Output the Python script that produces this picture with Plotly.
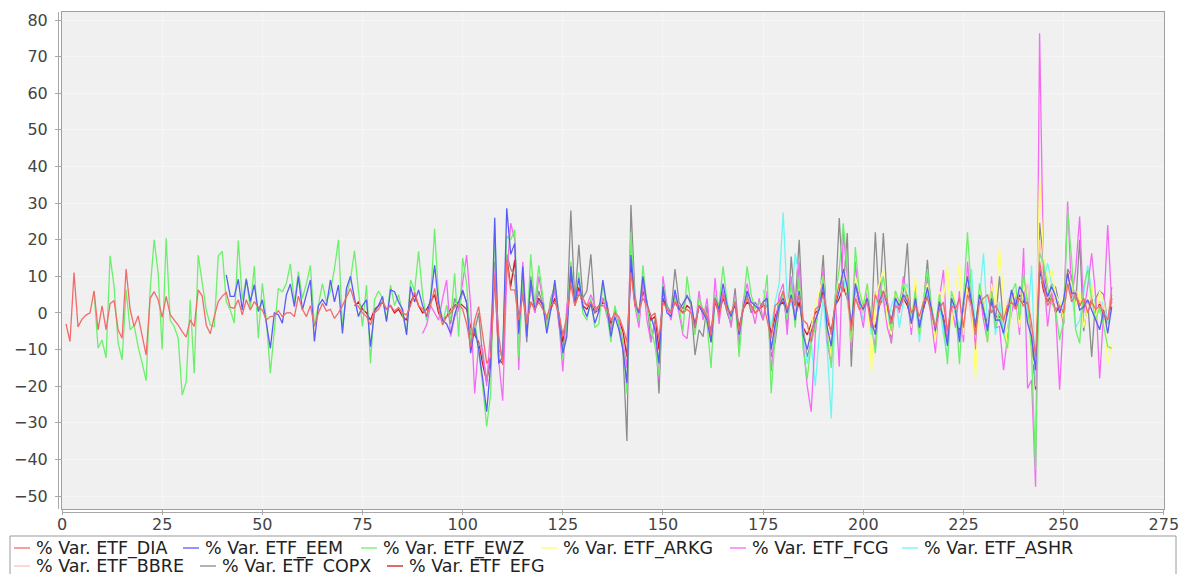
import plotly.graph_objects as go

# ---- data (x = day index, each series starts at its own x) ----
dia_start = 1
dia = [-3, -7.8, 11, -3.8, -1.7, -0.6, 0, 6, -4.6, 1.9, -4.6, 2.5, 3.4, -4.6, -6.9, 12, 1, -3.7, -0.8, -6.5, -11.5, 4, 5.8, 3.6, -1.2, 4.5, -0.5,
       -1.9, -3.3, -5.1, -6.6, -1.9, -3.7, 6.3, 4.6, -3.3, -5.7, -1, 3.1, 4.6, 5.6, 1.5, 1.3, 3.6, -0.5, 3.6, 0.8, 3.1, 1.5, 0.8, -1.9, -1, -0.8, 0.6, -1, 0, 0.1, -1, 4.6,
       1, -1, 2, -3.7, 0, 2.6, 0.5, 1, -1.5, 0, 2, 4.5, 6.7, 3, 1.7, 0, -1, -3.3, 0, 1, 3.1, 1, 2, 0.5, 1.5, 0, -0.5, 2, 5.8, 2, 1, -0.5, 2, 6.7, 1, -3.3, -1, 0, 1.5, 2.6, 1,
       -3, -9.2, -2, 1.7, -6, -13.8, -12, 10.4, -6, -14.2, 14.5, 6.3, 6.3, -2,
       5, -3, 3, 1, 3, 1, -1, 2, 3, 0, -6, -1, 8, 2, 5, 4, 2, 3, 1, 2, 2, 1, -2, 0, -1, -4, -8, 11, 2, 1, 4, 2, -1, 0, -7, 3, 1, 0, 3, 2, 0, 1,
       0, -4, 2, 1, -1, -6, 4, -1, 5, 1, 0, 3, -5, 1, 4, 2, 0, 1, 3, -2, -7, 2, 3, 6, 1, 4, 2, 5, -2, -3,
       -8, 1, 2, 5, 0, -6, 3, 8, 6, 5, -5, 4, 1, 2, 3, -4, 5, 2, 6, 3, -3, 2, 1, 4, 5, 0, 2, -1, 3, 4,
       0, -4, 1, 3, -5, 2, 1, 4, -4, 5, 2, -6, 3, 4, 5, 0, 2,
       0, -2, 2, 3, 1, 4, 2, 3, -3, -12, 14, 7, 2, 4, 1, 2, 0, 8, 3, 5, 2, 4, 0, 3, 1, 2, 0, -2, 5]

eem_start = 41
eem = [10.4, 4.5, 4.5, 9.2, 0.8, 9.2, 3.1, 7.7, 0.4, 3.6, -2.8, -9.7, 0, -0.5, -2.8, 4.9, 7.9, 1.7, 9.9,
       0.8, 5, 9, -7.8, 2, 3.6, 2, 9, 3, 7.6, -5.6, 6.7, 10, 4, -1, 2, 3.6, -9.2, 0.4, 2, 4.5, -2.4, 6.3, 5.8, 3, 1, -6, 7.2, 3, 6.3, 2, -1, 4, 13, 2.6, -2, -3, -5.6, -0.5, 3, 6.3,
       2.6, -11, -4, -10, -18, -27, -14, 26, -13.8, -12, 28.6, 16, 19, -5.6,
       12.7, -6.5, 9, 0.8, 3.6, 2.6, -5.6, 0.8, 9, -1, -11, -6.5, 12.7, 2.6, 9.5, 1.7, -1, 2.6, -2.8, 0.4, 9, 1.7, -6.5, -1, -4.6, -10, -19.2, 15.8, 2.6, 0, 10, 2.6, -1, -4.6, -13.8, 7.2, 0, -1, 6.3, 0.8, 2.6, 4.5,
       3, -4, 2, 0, -2, -8, 4, 1, 8, 2, -1, 3, -6, 1, 6, 3, 2, 1, 3, 4, -10, -3, 2, 4, 0, 5, -2, 6, -6, -10,
       -5, -2, 1, 8, -4, -9, 2, 6, 12, 7, -4, 8, 3, 1, 4, -2, -6, 3, 6, 2, -3, 4, 2, 5, 3, -3, 4, -4, 2, 7,
       1, -5, 3, -2, -9, 4, 1, -8, 3, 10, 3, -4, 5, 1, -5, 4, -2,
       -1.9, -5.6, 0.8, 6.3, 1.7, 7.2, 5.4, -2.8, -6.5, -15.6, 11.7, 8.1, 4.5, 7.2, 4.5, 0, 3.6, 10.8, 5.4, 5.4, 0.8, 1.7, 3.6, 0.8, -1.9, -4.6, 0.8, -5.6, 1.7]

ewz_start = 8
ewz = [6, -9.6, -7.4, -12.3, 15.6, 7.2, -8.2, -12.8, 6.3, -4.6, -3.4, -9.2, -13.7, -18.5, 6.3, 20, 10.8, -10, 20.4, -2,
       -3.7, -6.9, -22.4, -18.8, 3.6, -16.5, 15.8, 8.1, 0.8, -3.3, -3.7, 15.6, 16.8, 3.1, 0.8, -2.8, 19.8, 3.6, 9.5, 1.3, 12.8, -6.9, 8.1, -1.9, -16.5, -4.6, 6.7, 5.8, 8.1, 13.4, 2.6, 11.3,
       4, 8, 13, -3.7, 2, 8, 3, 6, 12, 20, -4, 5, 9, 17, 6, -3.7, 7.6, -13.8, 3.6, 6, 4, -2, 7.6, 2, 5, 0, -5.6, 9, 6, 16.8, 5, -2, 4, 23, 3.6, -3, 2, -2, 10.8, -6.5, 15,
       8, -9, -2, -10, -20, -31, -22, 24, -12, -10, 21, 20, 22.7, -12,
       10, -6, 16, 2, 13, 4, -4, 3, 8, 0, -12.5, -4, 14, 2, 11, 0, -2, 4, -4, -3, 8, 0, -8, 2, -3, -8, -22, 22, 3, -2, 13, 2, -4, -9, -17, 8, 1, 0, 4, 2, -5, 10,
       2, -6, 4, 1, -3, -15, 5, 2, 12.7, 3, -2, 4, -12, 2, 12.7, 5, 1, 3, 2, 10.4, -22, -6, 3, 5, -2, 8, -4, 10, -10, -18,
       -8, -4, 2, 10, -6, -15, 5, 12, 24.5, 12, -8, 18, 6, 2, 8, -3, -11, 4, 10, 2, -5, 6, 3, 8, 4, -2, 6, -6, 3, 12,
       2, -4, 5, -3, -14, 6, 2, -14, 4, 22, 5, -6, 8, 2, -8, 6, -4,
       0, -5.6, -9.7, 5.4, 8.1, -1.9, 10.8, 2.6, -11, -42.9, 16.3, 13.6, 7.2, 2.6, 0.8, -7.4, -1.9, 28, 14.5, -4.6, -8.3, 7.2, 11.7, 3.6, -1.9, 1.7, -3.7, -9.2, -9.7]

arkg_start = 180
arkg = [4, 2, 6, -3, 8, -6, -10, -4, 2, 6, 10, -4, -12, 3, 8, 12, 6, -8, 10, 6,
        2, 8, -16.5, 4, 8, 12, -2, -6, 6, 2, 8, 6, -4, 10, -6, 4, 8, 2, -8, 6,
        4, 12.7, -4, 6, 13.6, -6, 10, 4, -18.3, 6, 3, -8, 8, 2,
        17.7, 5, -10, 2, 6, -4, 8, 3, -12, -15, 37, 15, 8, 12, 5, 3, -2, 10, 8, 2, 6, -4, 2, 8, -2, 6, 3, -14, -8]

fcg_start = 90
fcg = [-5.6, -3.3, 2, 0, -2, 4, 9, -6.5, -1, 0.8, 8,
       15.8, 2, -22, -8.3, -10, -20, -5, 12, -13, -24, 10, 24.5, 20, -15.6,
       14, -4, 8, 0, 10, 3, -3, 2, 6, -2, -16, 2, 8, 4, 6, 3, 2, 5, 2, 0, 4, -1, -4, 0, -2, -8, -15, 22, 2, -4, 9, -2, -8, -3, -18, 10, 2, -2, 5, 0, -6, -7,
       3, -5, 6, -2, 4, -8, 9.5, -3, 6, 2, -4, 5, -9, 3, 8, 2, -3, 4, -2, 6, -16, -4, 5, 8, -6, 10, -3, 14, -8, -20,
       -27, -6, 4, 12, -8, -14, 4, -14.7, 22, 10, -10, 14, 2, -4, 6, -2, -10, 8, 4, -4, -8, 6, 0, 10, 4, -6, 8, -4, 2, 10,
       -2, -11, 4, 11.7, -8, 2, -4, 6, -8, 14, 2, -10, 6, -2, -8, 10, -4,
       -3.7, -15.6, -6.5, 0, 4.5, -6, 17.7, -20.6, -18.3, -47.5, 76.4, 10.8, -3.7, 5.4, 0, -21, 0, 30.4, 4.5, 11.7, 26.3, 0, 7.2, 16.3, 4.5, -17.9, 0.8, 24, 2.6]

ashr_start = 175
ashr = [6.3, 2, -4, 3, 8, 27.4, 4, 2, 16.3, 10, -5, -14, -8, -20, -6, 4, -10, -28.8, 2, 6,
        10, 4, -6, 8, 3, -2, 5, -6, 2, 6, 3, -3, 2, 5, -4, 3, 8, -2, 4, -8, 2, 6,
        -2, -4, 2, -6, -12, 3, 0, -4, 2, 8, 12, -5, 4, 16.3, -3, 5, -6,
        3, -6, -4, 2, 6, 1, 10, -3, 13, -20, 10, 8, 13.6, 8, 5, 3, 0, 8, 6, -4, -2, 5, 13, 6, 2, 0, 4, -3, 1]

bbre_start = 196
bbre = [3, -4, 5, 2, 0, 4, -3, 6, 2, 5, -2, -5, 3, 1, 5, 4, -3, 4, -4, 2, 6, 1, -5, 3, 2, -6, 4, 1, -4, 3, 6, -2, -7, 4, 2, 5, 1, 3,
        2, -4, 3, 5, 2, 6, 4, 8, -5, -14, 20, 9, 4, 6, 3, 2, 0, 9, 5, 6, 3, 4, 1, 5, 2, 3, 1, -2, 6]

copx_start = 96
copx = [2, -3, 4, 1, 6, 3, -6, -5, 0, -12, -18, -12, 14, -10, -12, 16, 12, 10, -6,
        8, -8, 10, 0, 6, 2, -4, 4, 7, -3, -10, -2, 28, 3, 18.6, 4, 6, 16, 0, 2, 4, 3, -5, 1, -3, -10, -35, 29.5, 5, -2, 8, 3, -8, -2, -22, 6, 2, 0, 12, 3, 1, 5,
        2, -11.5, -4.6, -6.5, 2, -8, 4, 1, 5, 0, -3, 6.7, -6, 2, 5, 0, 3, 1, -2, 4, -12, -8, 1, 6, -4, 15.4, 2, 20, -4, -12,
        -8, -3, 2, 15.8, -6, -10, 3, 25.9, 6, 21.8, -14.7, 8, 4, 0, 5, -4, 22, 2, 21.8, 3, -8.3, 4, 2, 6, 19, -4, 3, -6, 2, 14.5,
        0, -6, 3, -2, -8, 4, 1, -6, 2, 10, 2, -8, 5, 0, -4, 6, -2,
        10, -3, 0, 4, 6, -2, 5, 2, -8, -20, 24.6, 14, 3, 8, 7, 2, -3, 12, 10, 2, 20, -5, 3, -12, 4, 6, 5, -3, 7]

efg_start = 73
efg = [2, 3, 1, 0, -2, 1, 2, 3, 1, 2, 0, 1, -1, -2, 3, 5, 2, 0, 1, 3, 5, 0, -2, -1, 1, 2, 3, 2,
       1, -4, -6, -8, -14, -18.8, -12, 10.8, -12.8, -13.8, 15.4, 7.2, 14.5, -3.7,
       6, -3, 3, 1, 4, 2, -2, 1, 4, 0, -8, -2, 11, 2, 7, 2, 1, 3, 0, 1, 3, 2, -3, 0, -2, -5, -12, 14, 2, 0, 6, 2, -2, -1, -10, 4, 1, 0, 3, 1, 0, 2,
       1, -3, 2, 0, -1, -5, 3, 0, 4, 1, 0, 2, -4, 1, 3, 2, 0, 1, 2, 2, -6, -1, 2, 3, 0, 4, -1, 3, -4, -6,
       -3, 0, 1, 6, -2, -5, 2, 4, 7, 4, -3, 5, 2, 1, 3, -2, -4, 2, 4, 1, -2, 3, 1, 4, 2, -2, 3, -3, 1, 5,
       1, -4, 2, -1, -6, 3, 0, -5, 2, 8, 2, -3, 4, 1, -3, 3, -1,
       -1, -3, 1, 3, 2, 5, 3, 4, -6, -21, 12, 6, 3, 5, 0, 2, -1, 11, 4, 6, 2, 3, 1, 4, 0, 3, -1, -3, 4]

names = ["% Var. ETF_DIA", "% Var. ETF_EEM", "% Var. ETF_EWZ", "% Var. ETF_ARKG", "% Var. ETF_FCG",
         "% Var. ETF_ASHR", "% Var. ETF_BBRE", "% Var. ETF_COPX", "% Var. ETF_EFG"]
starts = [dia_start, eem_start, ewz_start, arkg_start, fcg_start, ashr_start, bbre_start, copx_start, efg_start]
values = [dia, eem, ewz, arkg, fcg, ashr, bbre, copx, efg]
colors = ["#f26b6b", "#5b5bf5", "#6cf06c", "#ffff70", "#f56af5", "#70f5f5", "#ffc0c0", "#8c8c8c", "#d01818"]

x_ticks = [0, 25, 50, 75, 100, 125, 150, 175, 200, 225, 250, 275]
y_ticks = [-50, -40, -30, -20, -10, 0, 10, 20, 30, 40, 50, 60, 70, 80]

# legend layout (pixel positions of each entry's text start and row centre)
legend_text_x = [36, 205, 383, 563, 752, 924, 36, 222, 409]
legend_row_y = [548, 548, 548, 548, 548, 548, 566, 566, 566]

W, H = 1179, 574
L, R, T, B = 62, 15, 12, 65
pw, ph = W - L - R, H - T - B

def pxx(px):
    return (px - L) / pw

def pxy(py):
    return (H - B - py) / ph

fig = go.Figure()
# JFreeChart draws the first series on top -> add in reverse order
for name, s0, vals, col in reversed(list(zip(names, starts, values, colors))):
    xs = list(range(s0, s0 + len(vals)))
    fig.add_trace(go.Scatter(x=xs, y=vals, mode="lines", name=name, showlegend=False,
                             line=dict(color=col, width=1.3)))

shapes = [
    # legend frame
    dict(type="rect", xref="paper", yref="paper", x0=pxx(10), x1=pxx(1176), y0=pxy(580), y1=pxy(536),
         line=dict(color="#9a9a9a", width=1), fillcolor="rgba(0,0,0,0)", layer="above"),
    # offset axis lines (JFreeChart style)
    dict(type="line", xref="paper", yref="paper", x0=pxx(58.5), x1=pxx(58.5), y0=pxy(509), y1=pxy(12),
         line=dict(color="#a8a8a8", width=1)),
    dict(type="line", xref="paper", yref="paper", x0=pxx(62), x1=pxx(1164), y0=pxy(512.5), y1=pxy(512.5),
         line=dict(color="#a8a8a8", width=1)),
]
annotations = []
for name, col, tx, ty in zip(names, colors, legend_text_x, legend_row_y):
    shapes.append(dict(type="line", xref="paper", yref="paper",
                       x0=pxx(tx - 22), x1=pxx(tx - 6), y0=pxy(ty), y1=pxy(ty),
                       line=dict(color=col, width=1.3)))
    annotations.append(dict(text=name, xref="paper", yref="paper", x=pxx(tx - 1), y=pxy(ty),
                            xanchor="left", yanchor="middle", showarrow=False, borderpad=0,
                            font=dict(family="DejaVu Sans", size=17.5, color="#222222")))

fig.update_layout(
    width=W, height=H,
    margin=dict(l=L, r=R, t=T, b=B, autoexpand=False),
    paper_bgcolor="white",
    plot_bgcolor="#f0f0f0",
    font=dict(family="DejaVu Sans", size=16, color="#444444"),
    showlegend=False,
    xaxis=dict(range=[0, 275.05], tickvals=x_ticks, showgrid=True, gridcolor="#f6f6f6", gridwidth=1,
               zeroline=False, showline=True, linecolor="#a0a0a0", mirror=True,
               ticks="outside", ticklen=5, tickcolor="#a8a8a8", ticklabelstandoff=-4,
               ticklabeloverflow="allow", automargin=False,
               tickfont=dict(family="DejaVu Sans", size=16, color="#444444")),
    yaxis=dict(range=[-53.55, 82.19], tickvals=y_ticks, showgrid=True, gridcolor="#f6f6f6", gridwidth=1,
               zeroline=False, showline=True, linecolor="#a0a0a0", mirror=True,
               ticks="outside", ticklen=6, tickcolor="#a8a8a8", ticklabelstandoff=4, automargin=False,
               tickfont=dict(family="DejaVu Sans", size=16, color="#444444")),
    shapes=shapes,
    annotations=annotations,
)

# remove the browser's default 8px body margin so the figure sits at the page corner
fig.write_html("out.html", config={"displayModeBar": False},
               post_script="document.body.style.margin='0';document.body.style.overflow='hidden';")
